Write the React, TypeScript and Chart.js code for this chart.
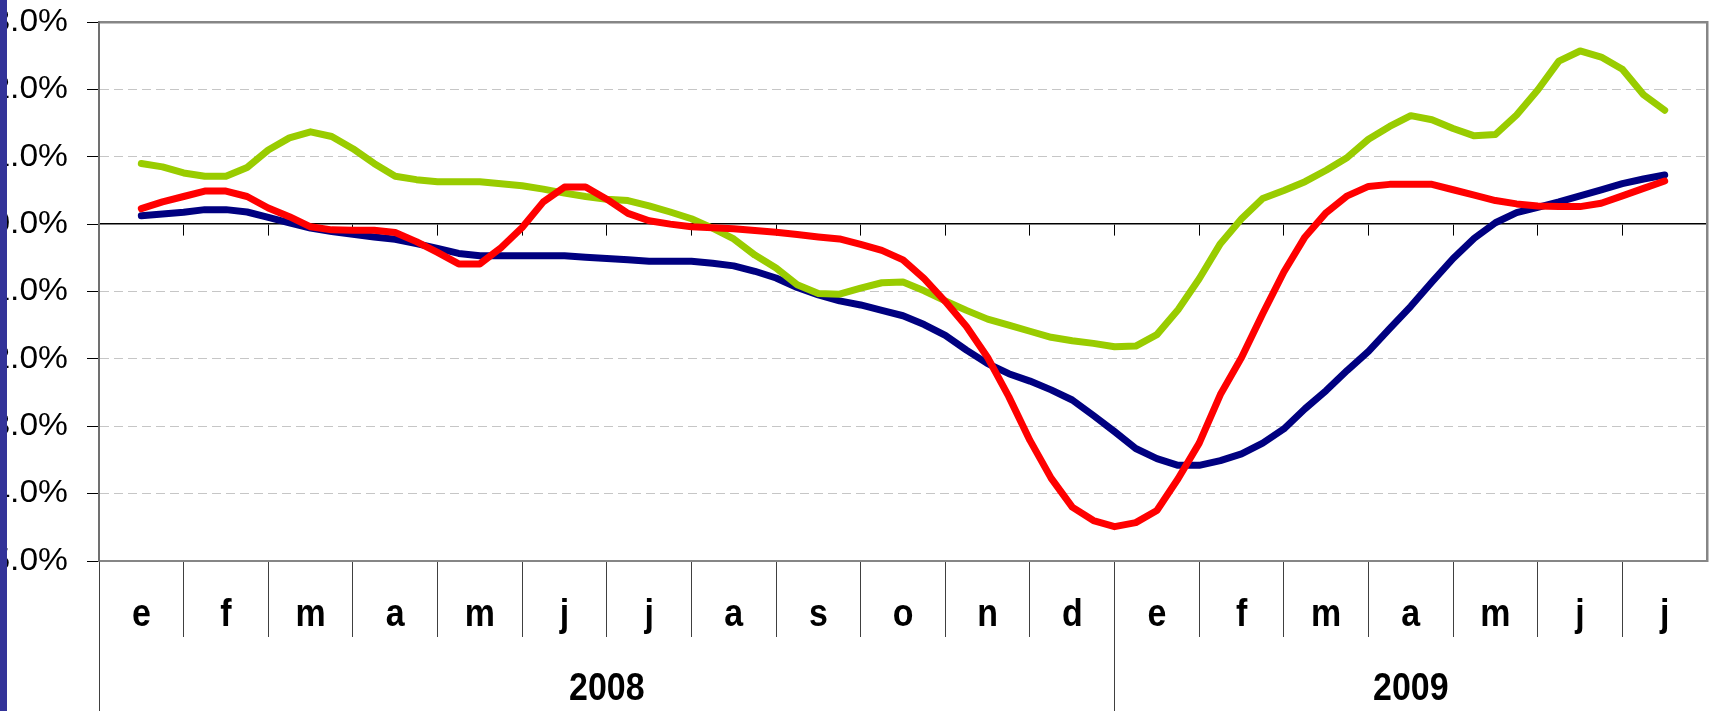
import React, { useEffect, useRef } from 'react';
import { Chart, registerables, CategoryScale, LinearScale } from 'chart.js';

Chart.register(...registerables);

// ---- data ----
const months = ['e', 'f', 'm', 'a', 'm', 'j', 'j', 'a', 's', 'o', 'n', 'd', 'e', 'f', 'm', 'a', 'm', 'j', 'j'];
const years = ['2008', '2009'];
const yearBounds = [0, 12, 19]; // month index where each year starts / ends
const yTicks = [-5, -4, -3, -2, -1, 0, 1, 2, 3];
const samplesPerMonth = 4; // roughly weekly readings, first one mid-January 2008

const seriesNavy = [
  0.125, 0.15, 0.175, 0.215, 0.215, 0.18, 0.10, 0.02, -0.06, -0.11,
  -0.15, -0.19, -0.225, -0.29, -0.36, -0.435, -0.47, -0.47, -0.47, -0.47,
  -0.47, -0.49, -0.51, -0.53, -0.55, -0.55, -0.55, -0.58, -0.62, -0.70,
  -0.80, -0.94, -1.05, -1.14, -1.20, -1.28, -1.36, -1.49, -1.65, -1.87,
  -2.07, -2.22, -2.33, -2.46, -2.61, -2.84, -3.08, -3.33, -3.48, -3.58,
  -3.58, -3.51, -3.41, -3.25, -3.04, -2.74, -2.47, -2.17, -1.89, -1.55,
  -1.22, -0.86, -0.51, -0.21, 0.02, 0.17, 0.25, 0.33, 0.42, 0.51,
  0.60, 0.67, 0.73,
];

const seriesGreen = [
  0.90, 0.85, 0.76, 0.71, 0.71, 0.84, 1.10, 1.28, 1.37, 1.30,
  1.12, 0.90, 0.71, 0.66, 0.63, 0.63, 0.63, 0.60, 0.57, 0.52,
  0.46, 0.41, 0.37, 0.35, 0.27, 0.18, 0.08, -0.06, -0.22, -0.46,
  -0.65, -0.90, -1.03, -1.04, -0.95, -0.87, -0.86, -0.99, -1.14, -1.28,
  -1.41, -1.50, -1.59, -1.68, -1.73, -1.77, -1.82, -1.81, -1.64, -1.27,
  -0.81, -0.29, 0.08, 0.38, 0.50, 0.63, 0.80, 0.99, 1.26, 1.45,
  1.61, 1.55, 1.42, 1.31, 1.33, 1.62, 1.99, 2.42, 2.57, 2.48,
  2.30, 1.92, 1.69,
];

const seriesRed = [
  0.23, 0.33, 0.41, 0.49, 0.49, 0.41, 0.24, 0.11, -0.04, -0.085,
  -0.09, -0.09, -0.125, -0.26, -0.42, -0.59, -0.59, -0.35, -0.05, 0.33,
  0.55, 0.55, 0.37, 0.16, 0.05, 0.00, -0.04, -0.055, -0.07, -0.095,
  -0.12, -0.155, -0.19, -0.22, -0.30, -0.39, -0.53, -0.81, -1.15, -1.52,
  -1.98, -2.56, -3.21, -3.77, -4.20, -4.40, -4.49, -4.43, -4.25, -3.78,
  -3.25, -2.53, -1.98, -1.33, -0.71, -0.19, 0.17, 0.42, 0.56, 0.59,
  0.59, 0.59, 0.51, 0.43, 0.35, 0.30, 0.27, 0.26, 0.26, 0.31,
  0.42, 0.53, 0.64,
];

// ---- layout / style ----
const W = 1715;
const H = 711;
const PLOT_LEFT = 99;
const PLOT_TOP = 22;
const RIGHT_GAP = 8;
const MONTH_BAND = 76;
const YEAR_BAND = 74;
const LINE_W = 7;
const FONT = "'Liberation Sans', Arial, Helvetica, sans-serif";

const toPoints = (vals: number[]) =>
  vals.map((v, k) => ({ x: 0.5 + k / samplesPerMonth, y: v }));

// draws the tick labels computed by the scale, horizontally stretched by sx
function paintLabels(scale: any, area: any, sx: number) {
  if (!scale.options.ticks.display) return;
  const ctx: CanvasRenderingContext2D = scale.ctx;
  const items = scale.getLabelItems(area);
  for (const item of items) {
    const o = item.options || {};
    const tr = o.translation || [0, 0];
    const lines = Array.isArray(item.label) ? item.label : [item.label];
    ctx.save();
    ctx.translate(tr[0], tr[1]);
    if (o.rotation) ctx.rotate(o.rotation);
    ctx.scale(sx, 1);
    ctx.font = item.font.string;
    ctx.fillStyle = o.color || '#000';
    ctx.textAlign = o.textAlign || 'center';
    ctx.textBaseline = o.textBaseline || 'middle';
    let y = item.textOffset || 0;
    for (const line of lines) {
      ctx.fillText(String(line), 0, y);
      y += item.font.lineHeight;
    }
    ctx.restore();
  }
}

class NarrowCategory extends (CategoryScale as any) {
  drawLabels(area: any) { paintLabels(this, area, 0.87); }
}
(NarrowCategory as any).id = 'narrowCategory';

class NarrowLinear extends (LinearScale as any) {
  drawLabels(area: any) { paintLabels(this, area, 0.87); }
}
(NarrowLinear as any).id = 'narrowLinear';

class WideLinear extends (LinearScale as any) {
  drawLabels(area: any) { paintLabels(this, area, 1.05); }
}
(WideLinear as any).id = 'wideLinear';

Chart.register(NarrowCategory as any, NarrowLinear as any, WideLinear as any);

export default function App() {
  const ref = useRef<HTMLCanvasElement | null>(null);

  useEffect(() => {
    if (!ref.current) return;
    Chart.defaults.font.family = FONT;
    Chart.defaults.color = '#000';

    const nMonths = months.length;
    const yearTickValues: number[] = [];
    const yearLabelAt: Record<string, string> = {};
    for (let i = 0; i < years.length; i++) {
      yearTickValues.push(yearBounds[i]);
      const mid = (yearBounds[i] + yearBounds[i + 1]) / 2;
      yearTickValues.push(mid);
      yearLabelAt[String(mid)] = years[i];
    }

    const lineStyle = {
      borderWidth: LINE_W,
      pointRadius: 0,
      tension: 0,
      fill: false,
      borderJoinStyle: 'round',
      borderCapStyle: 'round',
      xAxisID: 'x',
      yAxisID: 'y',
    };

    const chart = new Chart(ref.current, {
      type: 'line',
      data: {
        datasets: [
          { label: 'rojo', data: toPoints(seriesRed), borderColor: '#ff0000', ...lineStyle },
          { label: 'verde', data: toPoints(seriesGreen), borderColor: '#99cc00', ...lineStyle },
          { label: 'azul', data: toPoints(seriesNavy), borderColor: '#000080', ...lineStyle },
        ],
      },
      options: {
        responsive: false,
        animation: false,
        devicePixelRatio: 1,
        layout: { padding: 0 },
        plugins: {
          legend: { display: false },
          tooltip: { enabled: false },
          title: { display: false },
        },
        scales: {
          x: {
            type: 'linear',
            axis: 'x',
            display: false,
            min: 0,
            max: nMonths,
          },
          xt: {
            type: 'linear',
            axis: 'x',
            position: 'top',
            min: 0,
            max: nMonths,
            grid: { display: false, drawTicks: false },
            ticks: { display: false },
            border: { display: true, color: '#868686', width: 2.5 },
            afterFit: (s: any) => { s.height = PLOT_TOP; },
          },
          x0: {
            type: 'linear',
            axis: 'x',
            position: { y: 0 },
            min: 0,
            max: nMonths,
            afterBuildTicks: (s: any) => {
              s.ticks = months.map((_, i) => ({ value: i })).concat([{ value: nMonths }]);
            },
            ticks: { display: false },
            grid: { drawOnChartArea: false, drawTicks: true, tickLength: 11, color: '#000', lineWidth: 1 },
            border: { display: true, color: '#000', width: 1.6 },
          },
          xm: {
            type: 'narrowCategory',
            axis: 'x',
            position: 'bottom',
            weight: 1,
            labels: months,
            offset: true,
            grid: {
              offset: true,
              drawOnChartArea: false,
              drawTicks: true,
              tickLength: MONTH_BAND,
              lineWidth: 1,
              color: (c: any) => (c.index === undefined ? 'rgba(0,0,0,0)' : '#404040'),
            },
            border: { display: true, color: '#868686', width: 2 },
            ticks: {
              autoSkip: false,
              maxRotation: 0,
              minRotation: 0,
              padding: -45,
              color: '#000',
              font: { family: FONT, size: 39, weight: 'bold' },
            },
            afterFit: (s: any) => { s.height = MONTH_BAND; },
          },
          xy: {
            type: 'narrowLinear',
            axis: 'x',
            position: 'bottom',
            weight: 2,
            min: 0,
            max: nMonths,
            afterBuildTicks: (s: any) => {
              s.ticks = yearTickValues.map((v) => ({ value: v }));
            },
            ticks: {
              autoSkip: false,
              maxRotation: 0,
              minRotation: 0,
              padding: -45,
              color: '#000',
              font: { family: FONT, size: 39, weight: 'bold' },
              callback: (v: any) => yearLabelAt[String(v)] || '',
            },
            grid: {
              drawOnChartArea: false,
              drawTicks: true,
              tickLength: YEAR_BAND,
              lineWidth: 1,
              color: (c: any) =>
                c.tick && yearBounds.includes(c.tick.value) ? '#404040' : 'rgba(0,0,0,0)',
            },
            border: { display: false },
            afterFit: (s: any) => { s.height = YEAR_BAND; },
          },
          y: {
            type: 'wideLinear',
            axis: 'y',
            position: 'left',
            min: yTicks[0],
            max: yTicks[yTicks.length - 1],
            afterBuildTicks: (s: any) => {
              s.ticks = yTicks.map((v) => ({ value: v }));
            },
            ticks: {
              padding: 19,
              color: '#000',
              font: { family: FONT, size: 32 },
              callback: (v: any) => Number(v).toFixed(1) + '%',
            },
            grid: {
              drawTicks: true,
              tickLength: 12,
              lineWidth: 1,
              color: (c: any) => (c.tick && c.tick.value === 0 ? 'rgba(0,0,0,0)' : '#c6c6c6'),
              tickColor: '#000',
              tickBorderDash: [],
            },
            border: { display: true, color: '#707070', width: 2, dash: [9, 5] },
            afterFit: (s: any) => {
              s.width = PLOT_LEFT;
              s.paddingTop = 0;
              s.paddingBottom = 0;
            },
          },
          y2: {
            type: 'linear',
            axis: 'y',
            position: 'right',
            grid: { display: false, drawTicks: false },
            ticks: { display: false },
            border: { display: true, color: '#868686', width: 2.5 },
            afterFit: (s: any) => { s.width = RIGHT_GAP; },
          },
        },
      } as any,
    });

    return () => chart.destroy();
  }, []);

  return (
    <div
      style={{
        position: 'fixed',
        left: 0,
        top: 0,
        width: W,
        height: H,
        background: '#fff',
        overflow: 'hidden',
      }}
    >
      <canvas
        ref={ref}
        width={W}
        height={H}
        style={{ position: 'absolute', left: 0, top: 0, width: W, height: H }}
      />
      <div
        style={{ position: 'absolute', left: 0, top: 0, width: 7, height: H, background: '#333399' }}
      />
    </div>
  );
}
